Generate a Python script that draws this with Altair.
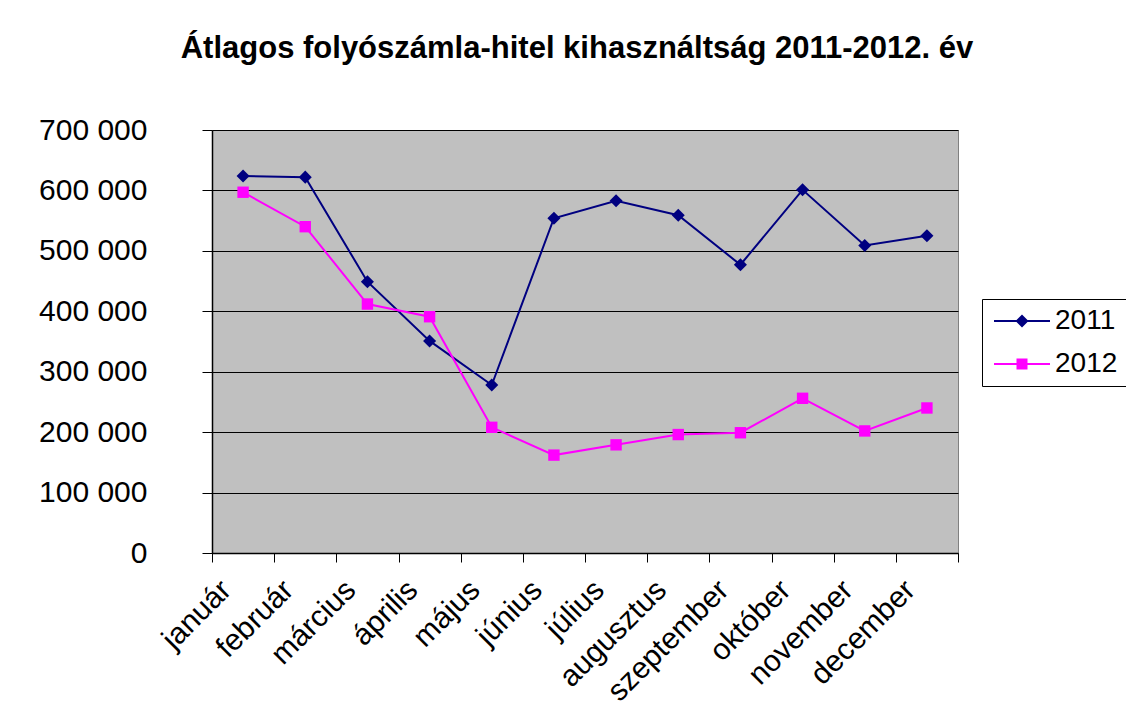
import altair as alt
import pandas as pd

months = ["január", "február", "március", "április", "május", "június",
          "július", "augusztus", "szeptember", "október", "november", "december"]
v2011 = [624000, 622000, 449000, 351000, 278000, 554000,
         583000, 559000, 477000, 601000, 509000, 525000]
v2012 = [597000, 540000, 412000, 391000, 208000, 162000,
         179000, 196000, 199000, 256000, 202000, 240000]
years = ["2011", "2012"]
colors = ["#000080", "#FF00FF"]
y_ticks = [0, 100000, 200000, 300000, 400000, 500000, 600000, 700000]

df = pd.DataFrame({
    "month": months * 2,
    "value": v2011 + v2012,
    "year": [years[0]] * 12 + [years[1]] * 12,
})

FONT = "Liberation Sans"

x_enc = alt.X(
    "month:N", sort=months,
    scale=alt.Scale(type="band", paddingInner=0, paddingOuter=0),
    axis=alt.Axis(
        title=None, labelAngle=-45, labelAlign="right", labelBaseline="middle",
        tickBand="extent", labelOffset=-17, tickSize=9, labelPadding=23,
        labelFontSize=30, labelFont=FONT, labelColor="black",
        domainColor="black", tickColor="black", domainWidth=1.5, grid=False,
        labelOverlap=False,
    ),
)
y_enc = alt.Y(
    "value:Q",
    scale=alt.Scale(domain=[0, 700000], nice=False, zero=True),
    axis=alt.Axis(
        title=None, values=y_ticks,
        labelExpr="datum.value == 0 ? '0' : floor(datum.value / 1000) + ' 000'",
        labelFontSize=30, labelFont=FONT, labelColor="black", labelPadding=55,
        tickSize=10, tickColor="black", domainColor="black", domainWidth=1.5,
        gridColor="black", gridWidth=1,
    ),
)

line = alt.Chart(df).mark_line(strokeWidth=2).encode(
    x=x_enc, y=y_enc,
    color=alt.Color("year:N", scale=alt.Scale(domain=years, range=colors), legend=None),
)

points = alt.Chart(df).mark_point(filled=True, opacity=1).encode(
    x=x_enc, y=y_enc,
    color=alt.Color("year:N", scale=alt.Scale(domain=years, range=colors), legend=None),
    shape=alt.Shape("year:N", scale=alt.Scale(domain=years, range=["diamond", "square"]), legend=None),
    size=alt.Size("year:N", scale=alt.Scale(domain=years, range=[170, 130]), legend=None),
)

path_2011 = "M-2.8,-0.1H2.8V0.1H-2.8Z M0,-0.65L0.65,0L0,0.65L-0.65,0Z"
path_2012 = "M-2.8,-0.1H2.8V0.1H-2.8Z M-0.55,-0.55H0.55V0.55H-0.55Z"

legend = alt.Legend(
    title=None, orient="none", legendX=770, legendY=169,
    strokeColor="black", fillColor="white", padding=8,
    labelFontSize=28, labelFont=FONT, labelColor="black",
    symbolSize=400, symbolOpacity=1, symbolOffset=18, labelOffset=19, rowPadding=15,
)

legend_layer = alt.Chart(df).mark_point(filled=True, opacity=0, size=400).encode(
    x=x_enc, y=y_enc,
    color=alt.Color("year:N", scale=alt.Scale(domain=years, range=colors), legend=legend),
    shape=alt.Shape("year:N", scale=alt.Scale(domain=years, range=[path_2011, path_2012]), legend=legend),
)

chart = alt.layer(line, points, legend_layer).resolve_scale(
    color="independent", shape="independent", size="independent"
).properties(
    width=746, height=423,
    autosize=alt.AutoSizeParams(type="none"),
    padding={"left": 204, "top": 122, "right": 168, "bottom": 158},
    title=alt.Title(
        "Átlagos folyószámla-hitel kihasználtság 2011-2012. év",
        font=FONT, fontSize=31, fontWeight="bold", color="black",
        anchor="middle", frame="group", baseline="alphabetic", offset=26, dx=-8,
    ),
    background="white",
).configure_view(
    fill="#C0C0C0", stroke="#808080", strokeWidth=1,
)

chart.save("out.html", embed_options={"renderer": "svg", "actions": False})
